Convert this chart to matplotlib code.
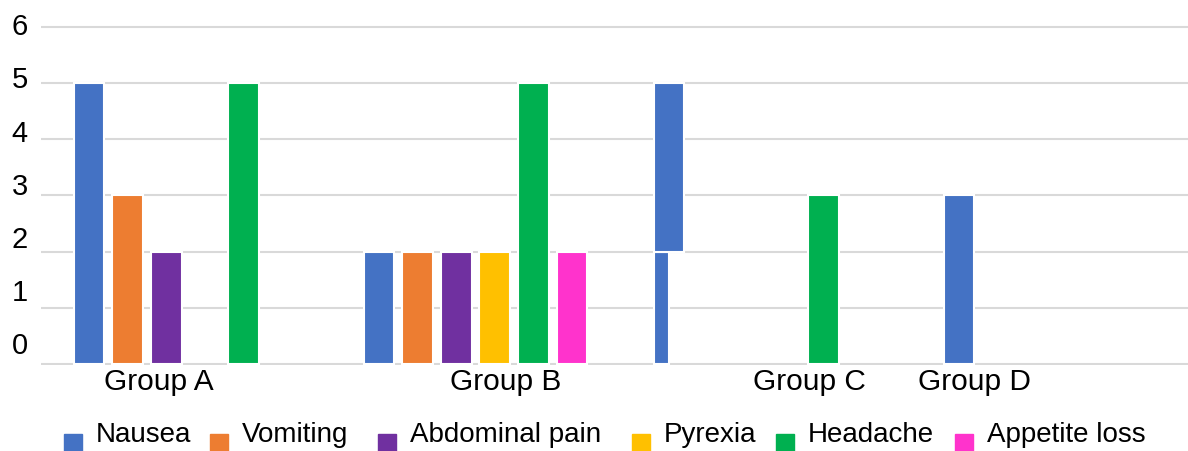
import numpy as np
import matplotlib
matplotlib.use('Agg')
import matplotlib.pyplot as plt
from matplotlib.patches import Rectangle

plt.rcParams['font.family'] = ['Liberation Sans', 'DejaVu Sans']

# data
groups = ['Group A', 'Group B', 'Group C', 'Group D']
symptoms = ['Nausea', 'Vomiting', 'Abdominal pain', 'Pyrexia', 'Headache', 'Appetite loss']
nausea = [5, 2, 5, 3]
vomiting = [3, 2, 0, 0]
abdominal_pain = [2, 2, 0, 0]
pyrexia = [0, 2, 0, 0]
headache = [5, 5, 3, 0]
appetite_loss = [0, 2, 0, 0]
nausea_c_break = 2   # group C nausea bar is drawn broken at this value
y_values = [0, 1, 2, 3, 4, 5, 6]
colors = ['#4472C4', '#ED7D31', '#7030A0', '#FFC000', '#00B050', '#FF33CC']

series = [nausea, vomiting, abdominal_pain, pyrexia, headache, appetite_loss]

# layout (pixels of the 1188x451 picture)
W, H = 1188, 451
base_px, top_px = 364, 25.5
ppu = (base_px - top_px) / 6.0
pad = 0.02
left_px, right_px = 40.5, 1200.5

fig = plt.figure(figsize=(W / 100, H / 100), dpi=100)
ax = fig.add_axes([left_px / W, (H - (base_px + pad * ppu)) / H,
                   (right_px - left_px) / W, (6 + 2 * pad) * ppu / H])

slot = 0.1331
width = 0.106
x = np.arange(len(groups))
for k, (vals, c) in enumerate(zip(series, colors)):
    xs = x + (k - 2.5) * slot
    for i, v in enumerate(vals):
        if v == 0:
            continue
        if k == 0 and i == 2:
            # broken bar: thin lower part, full width upper part
            ax.bar(xs[i] - width / 2, nausea_c_break, width=width / 2, align='edge',
                   color=c, edgecolor='white', linewidth=1.5, zorder=2)
            ax.bar(xs[i], v - nausea_c_break, bottom=nausea_c_break, width=width,
                   color=c, edgecolor='white', linewidth=1.5, zorder=2)
        else:
            ax.bar(xs[i], v, width=width, color=c, edgecolor='white',
                   linewidth=1.5, zorder=2)

ax.set_xlim(-0.5, len(groups) - 0.5)
ax.set_ylim(-pad, 6 + pad)
for s in ax.spines.values():
    s.set_visible(False)

# gridlines on the integer values, labels sit a bit above them
ax.set_yticks(y_values)
ax.yaxis.grid(True, color='#D9D9D9', linewidth=1.5)
ax.set_axisbelow(True)
label_pos = [0.372 + 0.945 * v for v in y_values]
ax.set_yticks(label_pos, labels=[str(v) for v in y_values], minor=True)
ax.tick_params(axis='y', which='major', length=0, labelleft=False)
ax.tick_params(axis='y', which='minor', length=0, pad=9, labelsize=21)

# group labels are off-centre in the reference
group_label_x = [-0.091, 1.105, 2.153, 2.719]
ax.set_xticks(group_label_x, labels=groups)
ax.tick_params(axis='x', length=0, pad=2, labelsize=21.5)

# legend along the bottom
sq_x = [64, 210, 378, 632, 776, 955]
for k, name in enumerate(symptoms):
    fig.add_artist(Rectangle((sq_x[k] / W, 0), 18 / W, 17 / H,
                             transform=fig.transFigure, color=colors[k]))
    fig.text((sq_x[k] + 32) / W, 9 / H, name, fontsize=20, va='baseline')

fig.savefig('out.png', dpi=100)
